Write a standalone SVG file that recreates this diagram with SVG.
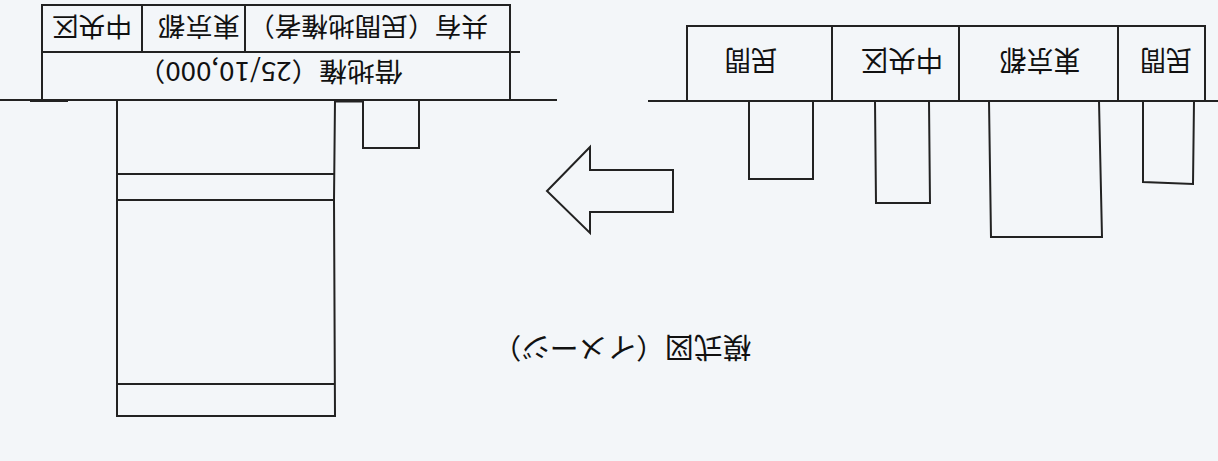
<svg xmlns="http://www.w3.org/2000/svg" width="1218" height="461" viewBox="0 0 1218 461">
<style>
.bg{fill:#f3f6f9}
.ln{fill:none;stroke:#222;stroke-width:2;stroke-linejoin:miter}
.bx{fill:#f3f6f9;stroke:#222;stroke-width:2}
.t{font-family:"Noto Sans CJK JP","Liberation Sans",sans-serif;font-size:26px;fill:#111;text-anchor:middle;dominant-baseline:central}
.tl{font-size:28px}
</style>
<rect class="bg" x="0" y="0" width="1218" height="461"/>
<g id="ground">
<line class="ln" x1="0" y1="100" x2="557" y2="100"/>
<line class="ln" x1="30" y1="101" x2="68" y2="101" stroke-width="3"/>
<line class="ln" x1="648" y1="101" x2="1218" y2="101"/>
</g>
<g id="left-table">
<rect class="bx" x="42" y="5" width="468" height="95"/>
<line class="ln" x1="42" y1="52" x2="520" y2="52"/>
<line class="ln" x1="142" y1="5" x2="142" y2="52"/>
<line class="ln" x1="245" y1="5" x2="245" y2="52"/>
<text class="t" x="92" y="28" textLength="80" lengthAdjust="spacingAndGlyphs" transform="rotate(180 92 28)">中央区</text>
<text class="t" x="199" y="28" textLength="82" lengthAdjust="spacingAndGlyphs" transform="rotate(180 199 28)">東京都</text>
<text class="t" x="368" y="28" textLength="240" lengthAdjust="spacingAndGlyphs" transform="rotate(180 368 28)">共有（民間地権者）</text>
<text class="t" x="270" y="73" textLength="265" lengthAdjust="spacingAndGlyphs" transform="rotate(180 270 73)">借地権（25/10,000）</text>
</g>
<g id="left-building">
<path class="ln" d="M117,100 L117,416 L335,416 L334,200 L335,100"/>
<line class="ln" x1="117" y1="174" x2="335" y2="174"/>
<line class="ln" x1="117" y1="200" x2="335" y2="200"/>
<line class="ln" x1="117" y1="384" x2="334" y2="384"/>
<line class="ln" x1="335" y1="101.5" x2="363" y2="101.5" stroke-width="3"/>
</g>
<g id="left-small-pillar">
<path class="ln" d="M363,100 L363,148 L419,148 L419,100"/>
</g>
<g id="arrow">
<polygon class="bx" points="547,191 590,147 590,170 673,170 673,212 590,212 590,233"/>
</g>
<g id="right-boxes">
<rect class="bx" x="687" y="26" width="145" height="75"/>
<rect class="bx" x="832" y="26" width="127" height="75"/>
<rect class="bx" x="959" y="26" width="159" height="75"/>
<rect class="bx" x="1118" y="26" width="87" height="75"/>
<text class="t tl" x="751" y="62" textLength="53" lengthAdjust="spacingAndGlyphs" transform="rotate(180 751 62)">民間</text>
<text class="t tl" x="902" y="62" textLength="82" lengthAdjust="spacingAndGlyphs" transform="rotate(180 902 62)">中央区</text>
<text class="t tl" x="1040" y="62" textLength="81" lengthAdjust="spacingAndGlyphs" transform="rotate(180 1040 62)">東京都</text>
<text class="t tl" x="1166" y="62" textLength="52" lengthAdjust="spacingAndGlyphs" transform="rotate(180 1166 62)">民間</text>
</g>
<g id="right-pillars">
<path class="ln" d="M749,101 L749,179 L813,179 L813,101"/>
<path class="ln" d="M875,101 L876,203 L930,203 L929,101"/>
<path class="ln" d="M989,101 L991,237 L1102,237 L1099,101"/>
<path class="ln" d="M1143,101 L1143,182 L1193,184 L1194,101"/>
</g>
<g id="caption">
<text class="t tl" x="622" y="349" textLength="259" lengthAdjust="spacingAndGlyphs" transform="rotate(180 622 349)">模式図（イメージ）</text>
</g>
</svg>
